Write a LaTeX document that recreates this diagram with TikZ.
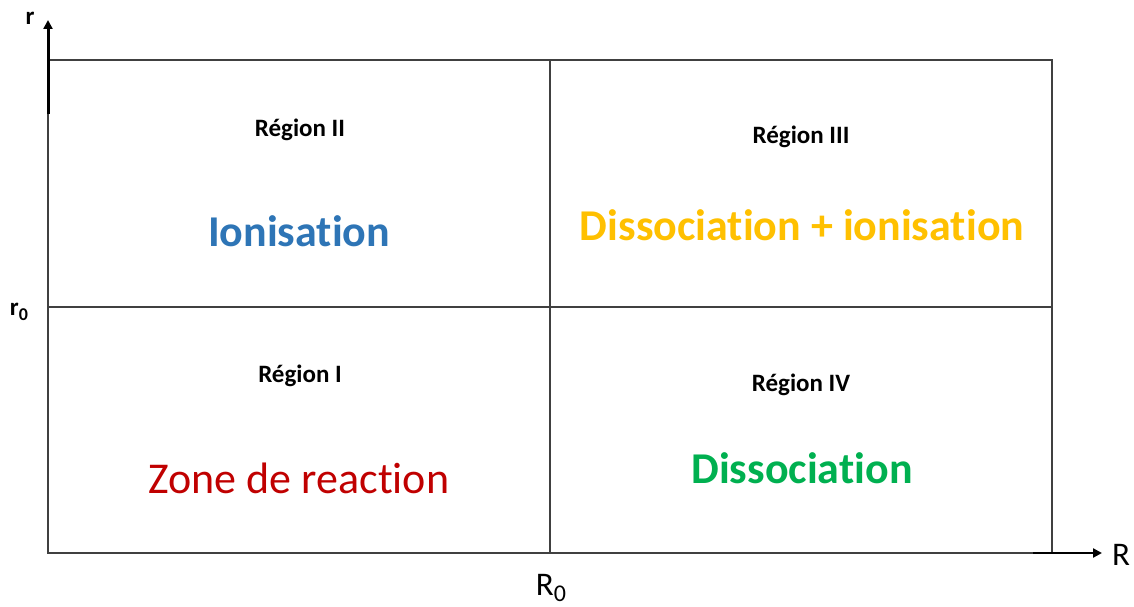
\documentclass[tikz,border=0pt]{standalone}
\usepackage{fontspec}
\setmainfont[RawFeature={-liga;-clig}]{Carlito}
\usetikzlibrary{arrows.meta}
\definecolor{cblue}{HTML}{2E75B6}
\definecolor{corange}{HTML}{FFC000}
\definecolor{cred}{HTML}{C00000}
\definecolor{cgreen}{HTML}{00B050}
\definecolor{cline}{HTML}{404040}
\begin{document}
\begin{tikzpicture}[x=1pt,y=-1pt,
  gridline/.style={draw=cline,line width=1.3pt},
  axis/.style={line width=3pt,-{Triangle[length=9pt,width=9pt]}},
  regionlbl/.style={font=\fontsize{25}{30}\selectfont\bfseries,inner sep=0pt},
  biglbl/.style={font=\fontsize{44}{50}\selectfont\bfseries,inner sep=0pt},
  axislbl/.style={inner sep=0pt}]
\useasboundingbox (0,0) rectangle (1134,607);
\coordinate (TL) at (48,60);
\coordinate (BR) at (1052,553);
\coordinate (TM) at (550,60);
\coordinate (BM) at (550,553);
\coordinate (LM) at (48,307);
\coordinate (RM) at (1052,307);
\draw[gridline] (TL) rectangle (BR);
\draw[gridline] (TM) -- (BM);
\draw[gridline] (LM) -- (RM);
\coordinate (ya) at (48,114);
\coordinate (yb) at (48,20);
\coordinate (xa) at (1033,553);
\coordinate (xb) at (1102,553);
\draw[axis] (ya) -- (yb);
\draw[axis,line width=2.5pt] (xa) -- (xb);
\node[axislbl,font=\fontsize{25}{30}\selectfont\bfseries] (r) at (30,18) {r};
\node[axislbl,font=\fontsize{25}{30}\selectfont\bfseries] (r0) at (19,312) {r\raisebox{-0.35ex}{\fontsize{18}{20}\selectfont 0}};
\node[axislbl,font=\fontsize{33}{40}\selectfont] (Rl) at (1121,555) {R};
\node[axislbl,font=\fontsize{33}{40}\selectfont] (R0) at (551,588) {R\raisebox{-0.35ex}{\fontsize{24}{28}\selectfont 0}};
\node[regionlbl] (reg2) at (300,130) {Région II};
\node[biglbl,text=cblue] (ion) at (299,231) {Ionisation};
\node[regionlbl] (reg3) at (801,137) {Région III};
\node[biglbl,text=corange] (dision) at (802,225) {Dissociation + ionisation};
\node[regionlbl] (reg1) at (300,376) {Région I};
\node[biglbl,font=\fontsize{44}{50}\selectfont\mdseries,text=cred] (zone) at (299,478) {Zone de reaction};
\node[regionlbl] (reg4) at (801,385) {Région IV};
\node[biglbl,text=cgreen] (dis) at (802,468) {Dissociation};
\end{tikzpicture}
\end{document}
